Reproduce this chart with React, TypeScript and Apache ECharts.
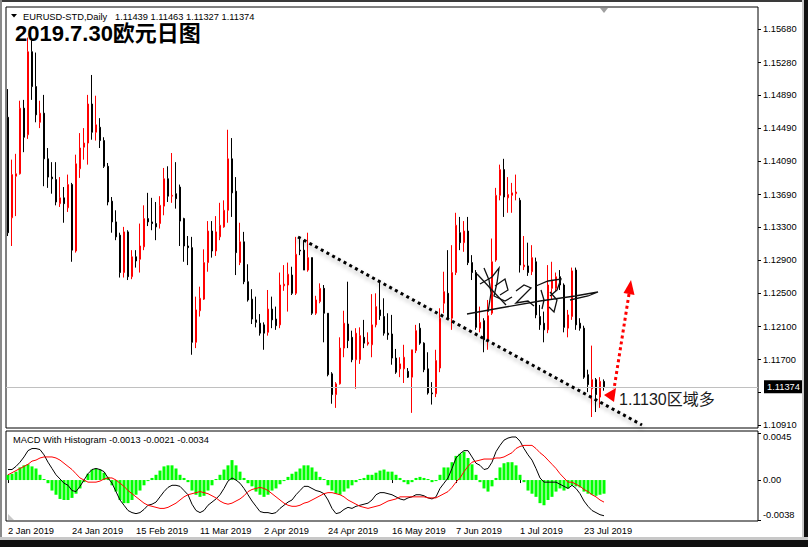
import React, { useEffect, useRef } from 'react';
import * as echarts from 'echarts';

// ---------- data ----------
const opens = [
  1.1462, 1.1341, 1.1391, 1.1394, 1.1473, 1.1441, 1.1541, 1.1499, 1.1456, 1.1467,
  1.1412, 1.1390, 1.1387, 1.1358, 1.1365, 1.1353, 1.1381, 1.1301, 1.1400, 1.1426,
  1.1431, 1.1478, 1.1444, 1.1450, 1.1434, 1.1403, 1.1361, 1.1336, 1.1320, 1.1275,
  1.1324, 1.1270, 1.1294, 1.1291, 1.1306, 1.1340, 1.1336, 1.1334, 1.1334, 1.1355,
  1.1388, 1.1367, 1.1370, 1.1378, 1.1340, 1.1307, 1.1305, 1.1191, 1.1229, 1.1243,
  1.1287, 1.1325, 1.1301, 1.1318, 1.1330, 1.1350, 1.1412, 1.1373, 1.1287, 1.1312,
  1.1264, 1.1243, 1.1218, 1.1214, 1.1212, 1.1203, 1.1231, 1.1219, 1.1212, 1.1259,
  1.1260, 1.1272, 1.1250, 1.1302, 1.1302, 1.1278, 1.1293, 1.1226, 1.1240, 1.1256,
  1.1226, 1.1153, 1.1128, 1.1141, 1.1184, 1.1213, 1.1197, 1.1170, 1.1170, 1.1197,
  1.1189, 1.1188, 1.1212, 1.1230, 1.1222, 1.1202, 1.1201, 1.1172, 1.1159, 1.1159,
  1.1156, 1.1149, 1.1181, 1.1208, 1.1190, 1.1159, 1.1130, 1.1129, 1.1160, 1.1238,
  1.1250, 1.1220, 1.1275, 1.1323, 1.1311, 1.1325, 1.1287, 1.1275, 1.1208, 1.1217,
  1.1193, 1.1226, 1.1290, 1.1368, 1.1399, 1.1365, 1.1368, 1.1370, 1.1362, 1.1282,
  1.1283, 1.1276, 1.1288, 1.1222, 1.1214, 1.1206, 1.1256, 1.1256, 1.1270, 1.1260,
  1.1208, 1.1222, 1.1278, 1.1214, 1.1208, 1.1152, 1.1135, 1.1146, 1.1125, 1.11439,
];
const highs = [
  1.1496, 1.1411, 1.1418, 1.1482, 1.1483, 1.1558, 1.1555, 1.1540, 1.1482, 1.1489,
  1.1425, 1.1408, 1.1408, 1.1390, 1.1378, 1.1393, 1.1383, 1.1417, 1.1443, 1.1449,
  1.1489, 1.1513, 1.1488, 1.1461, 1.1438, 1.1407, 1.1366, 1.1350, 1.1323, 1.1330,
  1.1326, 1.1302, 1.1302, 1.1334, 1.1356, 1.1371, 1.1365, 1.1360, 1.1367, 1.1401,
  1.1403, 1.1419, 1.1408, 1.1381, 1.1341, 1.1319, 1.1318, 1.1246, 1.1258, 1.1303,
  1.1337, 1.1337, 1.1343, 1.1359, 1.1362, 1.1447, 1.1437, 1.1390, 1.1335, 1.1324,
  1.1285, 1.1255, 1.1246, 1.1225, 1.1215, 1.1254, 1.1246, 1.1234, 1.1275, 1.1284,
  1.1287, 1.1282, 1.1318, 1.1318, 1.1314, 1.1323, 1.1293, 1.1247, 1.1262, 1.1260,
  1.1226, 1.1155, 1.1143, 1.1197, 1.1229, 1.1264, 1.1205, 1.1208, 1.1209, 1.1218,
  1.1203, 1.1249, 1.1250, 1.1264, 1.1244, 1.1226, 1.1224, 1.1183, 1.1173, 1.1188,
  1.1160, 1.1182, 1.1212, 1.1214, 1.1191, 1.1179, 1.1143, 1.1182, 1.1232, 1.1276,
  1.1302, 1.1308, 1.1347, 1.1342, 1.1337, 1.1342, 1.1296, 1.1278, 1.1234, 1.1220,
  1.1242, 1.1316, 1.1377, 1.1405, 1.1412, 1.1390, 1.1383, 1.1393, 1.1365, 1.1319,
  1.1311, 1.1308, 1.1293, 1.1236, 1.1228, 1.1284, 1.1288, 1.1275, 1.1278, 1.1262,
  1.1230, 1.1281, 1.1281, 1.1220, 1.1211, 1.1158, 1.1187, 1.1148, 1.1149, 1.11463,
];
const lows = [
  1.1319, 1.1307, 1.1343, 1.1393, 1.1420, 1.1436, 1.1483, 1.1456, 1.1449, 1.1379,
  1.1377, 1.1370, 1.1356, 1.1354, 1.1335, 1.1348, 1.1288, 1.1299, 1.1389, 1.1411,
  1.1405, 1.1435, 1.1434, 1.1425, 1.1401, 1.1356, 1.1323, 1.1314, 1.1269, 1.1269,
  1.1266, 1.1267, 1.1281, 1.1275, 1.1302, 1.1331, 1.1326, 1.1314, 1.1328, 1.1344,
  1.1360, 1.1359, 1.1352, 1.1307, 1.1288, 1.1284, 1.1176, 1.1184, 1.1222, 1.1242,
  1.1276, 1.1293, 1.1295, 1.1314, 1.1329, 1.1335, 1.1342, 1.1272, 1.1284, 1.1261,
  1.1240, 1.1213, 1.1209, 1.1199, 1.1182, 1.1199, 1.1208, 1.1206, 1.1208, 1.1253,
  1.1228, 1.1248, 1.1248, 1.1296, 1.1278, 1.1276, 1.1224, 1.1224, 1.1238, 1.1191,
  1.1150, 1.1117, 1.1112, 1.1140, 1.1173, 1.1184, 1.1167, 1.1135, 1.1165, 1.1184,
  1.1187, 1.1173, 1.1209, 1.1218, 1.1199, 1.1194, 1.1164, 1.1153, 1.1149, 1.1142,
  1.1148, 1.1106, 1.1178, 1.1188, 1.1155, 1.1128, 1.1116, 1.1125, 1.1155, 1.1226,
  1.1218, 1.1206, 1.1272, 1.1302, 1.1300, 1.1284, 1.1266, 1.1206, 1.1203, 1.1179,
  1.1182, 1.1224, 1.1288, 1.1362, 1.1342, 1.1347, 1.1347, 1.1362, 1.1275, 1.1278,
  1.1271, 1.1272, 1.1220, 1.1206, 1.1191, 1.1202, 1.1242, 1.1252, 1.1254, 1.1203,
  1.1197, 1.1218, 1.1206, 1.1205, 1.1147, 1.1131, 1.1101, 1.1107, 1.1112, 1.11327,
];
const closes = [
  1.1323, 1.1393, 1.1394, 1.1473, 1.1438, 1.1541, 1.1499, 1.1465, 1.1467, 1.1412,
  1.1390, 1.1388, 1.1360, 1.1365, 1.1358, 1.1381, 1.1302, 1.1406, 1.1425, 1.1431,
  1.1478, 1.1444, 1.1453, 1.1434, 1.1403, 1.1360, 1.1336, 1.1318, 1.1275, 1.1324,
  1.1270, 1.1294, 1.1289, 1.1307, 1.1340, 1.1336, 1.1334, 1.1330, 1.1356, 1.1388,
  1.1367, 1.1368, 1.1364, 1.1337, 1.1307, 1.1305, 1.1191, 1.1230, 1.1244, 1.1287,
  1.1325, 1.1301, 1.1324, 1.1332, 1.1350, 1.1412, 1.1371, 1.1299, 1.1312, 1.1264,
  1.1242, 1.1219, 1.1215, 1.1202, 1.1202, 1.1231, 1.1218, 1.1211, 1.1260, 1.1261,
  1.1273, 1.1250, 1.1297, 1.1301, 1.1278, 1.1293, 1.1226, 1.1242, 1.1256, 1.1226,
  1.1152, 1.1128, 1.1141, 1.1184, 1.1214, 1.1193, 1.1170, 1.1202, 1.1199, 1.1190,
  1.1191, 1.1212, 1.1234, 1.1223, 1.1202, 1.1200, 1.1172, 1.1155, 1.1165, 1.1173,
  1.1149, 1.1182, 1.1205, 1.1190, 1.1158, 1.1130, 1.1129, 1.1169, 1.1220, 1.1252,
  1.1220, 1.1275, 1.1332, 1.1311, 1.1325, 1.1287, 1.1275, 1.1209, 1.1215, 1.1194,
  1.1223, 1.1288, 1.1368, 1.1399, 1.1366, 1.1369, 1.1371, 1.1372, 1.1284, 1.1284,
  1.1275, 1.1293, 1.1224, 1.1212, 1.1206, 1.1260, 1.1266, 1.1270, 1.1260, 1.1209,
  1.1224, 1.1277, 1.1212, 1.1208, 1.1149, 1.1140, 1.1146, 1.1128, 1.1144, 1.11374,
];
const macdHist = [
  0.0005, 0.0006, 0.0008, 0.0012, 0.0014, 0.0015, 0.0013, 0.0011, 0.0005, 0.0001,
  -0.0003, -0.0010, -0.0014, -0.0018, -0.0019, -0.0019, -0.0017, -0.0013, -0.0008, -0.0002,
  0.0006, 0.0010, 0.0011, 0.0010, 0.0007, 0.0003, -0.0005, -0.0011, -0.0019, -0.0022,
  -0.0022, -0.0019, -0.0014, -0.0010, -0.0005, -0.0001, 0.0002, 0.0005, 0.0009, 0.0013,
  0.0014, 0.0014, 0.0011, 0.0005, 0.0002, -0.0002, -0.0010, -0.0014, -0.0016, -0.0015,
  -0.0010, -0.0005, 0.0001, 0.0005, 0.0010, 0.0014, 0.0019, 0.0014, 0.0008, 0.0002,
  -0.0003, -0.0006, -0.0011, -0.0014, -0.0016, -0.0014, -0.0010, -0.0008, -0.0004, -0.0001,
  0.0003, 0.0006, 0.0008, 0.0011, 0.0014, 0.0014, 0.0012, 0.0008, 0.0003, 0.0001,
  -0.0005, -0.0010, -0.0013, -0.0014, -0.0011, -0.0008, -0.0005, -0.0002, 0.0001, 0.0002,
  0.0005, 0.0005, 0.0007, 0.0009, 0.0010, 0.0008, 0.0008, 0.0005, 0.0002, -0.0002,
  -0.0004, -0.0002, 0.0002, 0.0003, 0.0002, 0.0001, -0.0002, -0.0001, 0.0005, 0.0012,
  0.0012, 0.0017, 0.0023, 0.0025, 0.0027, 0.0021, 0.0015, 0.0005, -0.0002, -0.0008,
  -0.0011, -0.0006, 0.0002, 0.0012, 0.0016, 0.0017, 0.0017, 0.0014, 0.0005, -0.0002,
  -0.0010, -0.0013, -0.0016, -0.0022, -0.0024, -0.0019, -0.0016, -0.0011, -0.0008, -0.0010,
  -0.0008, -0.0005, -0.0006, -0.0007, -0.0011, -0.0013, -0.0014, -0.0015, -0.0014, -0.0013,
];
const macdLine = [
  0.0010, 0.0010, 0.0013, 0.0017, 0.0022, 0.0028, 0.0030, 0.0030, 0.0029, 0.0024,
  0.0017, 0.0011, 0.0005, 0.0001, -0.0003, -0.0005, -0.0010, -0.0011, -0.0006, 0.0000,
  0.0006, 0.0010, 0.0011, 0.0010, 0.0008, 0.0002, -0.0003, -0.0011, -0.0019, -0.0024,
  -0.0029, -0.0031, -0.0032, -0.0031, -0.0028, -0.0024, -0.0023, -0.0021, -0.0016, -0.0011,
  -0.0007, -0.0005, -0.0005, -0.0006, -0.0010, -0.0014, -0.0023, -0.0029, -0.0031, -0.0029,
  -0.0024, -0.0021, -0.0018, -0.0014, -0.0008, -0.0001, 0.0002, 0.0000, -0.0003, -0.0008,
  -0.0014, -0.0020, -0.0025, -0.0030, -0.0031, -0.0031, -0.0032, -0.0031, -0.0027, -0.0024,
  -0.0021, -0.0019, -0.0014, -0.0010, -0.0006, -0.0006, -0.0008, -0.0010, -0.0011, -0.0013,
  -0.0019, -0.0027, -0.0032, -0.0031, -0.0028, -0.0026, -0.0027, -0.0025, -0.0024, -0.0023,
  -0.0022, -0.0019, -0.0014, -0.0012, -0.0012, -0.0013, -0.0014, -0.0016, -0.0018, -0.0019,
  -0.0017, -0.0016, -0.0014, -0.0014, -0.0015, -0.0017, -0.0018, -0.0016, -0.0008, -0.0003,
  0.0002, 0.0011, 0.0021, 0.0025, 0.0028, 0.0028, 0.0022, 0.0016, 0.0014, 0.0010,
  0.0011, 0.0017, 0.0027, 0.0033, 0.0038, 0.0040, 0.0041, 0.0041, 0.0037, 0.0030,
  0.0024, 0.0019, 0.0011, 0.0002, -0.0002, -0.0002, -0.0002, -0.0002, -0.0004, -0.0006,
  -0.0008, -0.0005, -0.0008, -0.0013, -0.0020, -0.0025, -0.0029, -0.0031, -0.0033, -0.0034,
];
const signalLine = [
  0.0005, 0.0007, 0.0009, 0.0011, 0.0013, 0.0015, 0.0018, 0.0019, 0.0021, 0.0022,
  0.0022, 0.0022, 0.0021, 0.0019, 0.0016, 0.0013, 0.0010, 0.0006, 0.0002, 0.0000,
  -0.0002, -0.0002, -0.0002, -0.0001, 0.0001, 0.0002, 0.0002, 0.0000, -0.0003, -0.0006,
  -0.0010, -0.0013, -0.0016, -0.0019, -0.0022, -0.0024, -0.0025, -0.0026, -0.0027, -0.0027,
  -0.0026, -0.0024, -0.0022, -0.0019, -0.0016, -0.0014, -0.0013, -0.0012, -0.0011, -0.0012,
  -0.0013, -0.0015, -0.0017, -0.0020, -0.0022, -0.0023, -0.0022, -0.0020, -0.0018, -0.0015,
  -0.0011, -0.0009, -0.0008, -0.0007, -0.0008, -0.0010, -0.0013, -0.0016, -0.0019, -0.0022,
  -0.0024, -0.0025, -0.0025, -0.0024, -0.0022, -0.0021, -0.0019, -0.0017, -0.0015, -0.0013,
  -0.0012, -0.0012, -0.0013, -0.0014, -0.0016, -0.0019, -0.0021, -0.0023, -0.0025, -0.0026,
  -0.0027, -0.0026, -0.0025, -0.0024, -0.0022, -0.0020, -0.0019, -0.0018, -0.0016, -0.0016,
  -0.0016, -0.0016, -0.0016, -0.0016, -0.0016, -0.0017, -0.0017, -0.0017, -0.0015, -0.0013,
  -0.0011, -0.0007, -0.0002, 0.0002, 0.0008, 0.0013, 0.0017, 0.0018, 0.0019, 0.0020,
  0.0020, 0.0020, 0.0021, 0.0021, 0.0022, 0.0024, 0.0026, 0.0030, 0.0032, 0.0033,
  0.0033, 0.0033, 0.0030, 0.0026, 0.0023, 0.0019, 0.0015, 0.0011, 0.0006, 0.0002,
  -0.0002, -0.0002, -0.0004, -0.0006, -0.0009, -0.0011, -0.0014, -0.0016, -0.0019, -0.0021,
];
const priceTicks = [1.1568, 1.1528, 1.1489, 1.1449, 1.1409, 1.1369, 1.133, 1.129, 1.125, 1.121, 1.117, 1.1131, 1.1091];
const priceLabels = [1.1568, 1.1528, 1.1489, 1.1449, 1.1409, 1.1369, 1.133, 1.129, 1.125, 1.121, 1.117, 1.1091];
const macdTicks = [-0.0038, 0, 0.0045];
const lastPrice = 1.11374;
const headerSymbol = 'EURUSD-STD,Daily';
const headerOHLC = '1.11439 1.11463 1.11327 1.11374';
const titleText = '2019.7.30欧元日图';
const macdTitle = 'MACD With Histogram -0.0013 -0.0021 -0.0034';
const noteText = '1.1130区域多';
const MONTHS = ['Jan', 'Feb', 'Mar', 'Apr', 'May', 'Jun', 'Jul', 'Aug', 'Sep', 'Oct', 'Nov', 'Dec'];

function tradingDays(n: number): string[] {
  const out: string[] = [];
  const d = new Date(Date.UTC(2019, 0, 2));
  while (out.length < n) {
    const wd = d.getUTCDay();
    if (wd !== 0 && wd !== 6) out.push(`${d.getUTCDate()} ${MONTHS[d.getUTCMonth()]} ${d.getUTCFullYear()}`);
    d.setUTCDate(d.getUTCDate() + 1);
  }
  return out;
}

const FONT = "'Liberation Sans', Arial, sans-serif";
const FONT_CJK = "'Liberation Sans', 'Noto Sans CJK SC', sans-serif";

export default function App() {
  const ref = useRef<HTMLDivElement>(null);
  useEffect(() => {
    if (!ref.current) return;
    const chart = echarts.init(ref.current, null, { renderer: 'svg' });
    const dates = tradingDays(opens.length);
    const shiftBars = 38; // empty space right of the last bar (chart shift)
    const cats = [...dates];
    for (let k = 0; k < shiftBars; k++) cats.push(`_${k}`);
    const showTick = (index: number) => index < dates.length && index % 16 === 0;
    const candleData = opens.map((o, i) => [o, closes[i], lows[i], highs[i]]);

    const sig = [
      [[484, 268], [489, 280], [491, 293], [488, 312]],
      [[480, 284], [492, 277], [499, 268], [497, 283], [494, 296], [505, 301], [512, 297]],
      [[495, 286], [505, 279], [508, 290], [500, 295]],
      [[477, 274], [506, 305]],
      [[516, 291], [524, 285], [531, 288], [522, 297], [516, 303], [528, 301], [534, 306]],
      [[536, 286], [548, 281], [561, 279], [557, 290], [550, 296]],
      [[541, 290], [544, 300], [542, 309]],
      [[550, 292], [557, 300], [554, 312], [549, 307]],
      [[467, 314], [500, 308], [540, 301], [575, 296], [598, 292], [588, 296], [570, 300]],
    ];

    chart.setOption({
      animation: false,
      backgroundColor: '#ffffff',
      grid: [
        { left: 6, top: 7, width: 752, height: 421, show: true, borderColor: '#000', borderWidth: 1, backgroundColor: 'transparent' },
        { left: 6, top: 431, width: 752, height: 90, show: true, borderColor: '#000', borderWidth: 1, backgroundColor: 'transparent' },
      ],
      xAxis: [
        { type: 'category', gridIndex: 0, data: cats, show: false, boundaryGap: true },
        {
          type: 'category', gridIndex: 1, data: cats, boundaryGap: true,
          axisLine: { show: false },
          axisTick: { show: true, interval: showTick, alignWithLabel: true, length: 3, lineStyle: { color: '#000' } },
          axisLabel: { interval: showTick, align: 'left', margin: 5, color: '#000', fontSize: 9.3, fontFamily: FONT },
          splitLine: { show: false },
        },
      ],
      yAxis: [
        {
          type: 'value', gridIndex: 0, position: 'right', min: 1.108777, max: 1.159487,
          axisLine: { show: false }, splitLine: { show: false },
          axisTick: { show: true, customValues: priceTicks, length: 3, lineStyle: { color: '#000' } },
          axisLabel: { customValues: priceLabels, formatter: (v: number) => v.toFixed(5), margin: 5, color: '#000', fontSize: 9.3, fontFamily: FONT },
        },
        {
          type: 'value', gridIndex: 1, position: 'right', min: -0.0039, max: 0.00467,
          axisLine: { show: false }, splitLine: { show: false },
          axisTick: { show: true, customValues: macdTicks, length: 3, lineStyle: { color: '#000' } },
          axisLabel: {
            customValues: macdTicks,
            formatter: (v: number) => (v === 0 ? '0.00' : v.toFixed(4)),
            margin: 5, color: '#000', fontSize: 9.3, fontFamily: FONT,
            verticalAlignMinLabel: 'bottom', verticalAlignMaxLabel: 'top',
          },
        },
      ],
      series: [
        {
          type: 'candlestick', xAxisIndex: 0, yAxisIndex: 0, data: candleData, barWidth: 2,
          itemStyle: { color: '#ffffff', color0: '#000000', borderColor: '#ff0000', borderColor0: '#000000', borderWidth: 1 },
          markLine: {
            silent: true, symbol: ['none', 'none'], precision: 5,
            data: [{ yAxis: lastPrice }],
            lineStyle: { color: '#c0c0c0', type: 'solid', width: 1 },
            label: {
              show: true, position: 'end', distance: 6,
              formatter: (p: any) => Number(p.value).toFixed(5),
              backgroundColor: '#000', color: '#fff', padding: [2, 3, 2, 3],
              fontSize: 9.3, fontFamily: FONT,
            },
          },
        },
        { type: 'bar', xAxisIndex: 1, yAxisIndex: 1, data: macdHist, barWidth: 3, itemStyle: { color: '#00ff00' } },
        { type: 'line', xAxisIndex: 1, yAxisIndex: 1, data: macdLine, symbol: 'none', lineStyle: { color: '#000000', width: 1 } },
        { type: 'line', xAxisIndex: 1, yAxisIndex: 1, data: signalLine, symbol: 'none', lineStyle: { color: '#ff0000', width: 1 } },
      ],
      graphic: [
        // window frame
        { type: 'rect', z: 100, shape: { x: 0, y: 0, width: 808, height: 2 }, style: { fill: '#3a3a3a' } },
        { type: 'rect', z: 100, shape: { x: 0, y: 0, width: 2, height: 547 }, style: { fill: '#8a8a8a' } },
        { type: 'rect', z: 100, shape: { x: 802, y: 0, width: 2, height: 547 }, style: { fill: '#c8c8c8' } },
        { type: 'rect', z: 100, shape: { x: 804, y: 0, width: 4, height: 547 }, style: { fill: '#101010' } },
        { type: 'rect', z: 100, shape: { x: 0, y: 537, width: 808, height: 3 }, style: { fill: '#c8c8c8' } },
        { type: 'rect', z: 100, shape: { x: 0, y: 540, width: 808, height: 7 }, style: { fill: '#101010' } },
        // header
        { type: 'polygon', z: 100, shape: { points: [[11, 14], [17, 14], [14, 17.5]] }, style: { fill: '#000' } },
        { type: 'text', z: 100, x: 23, y: 16.5, style: { text: headerSymbol, fontSize: 9.3, fontFamily: FONT, fill: '#000', verticalAlign: 'middle' } },
        { type: 'text', z: 100, x: 115, y: 16.5, style: { text: headerOHLC, fontSize: 9.3, fontFamily: FONT, fill: '#000', verticalAlign: 'middle' } },
        { type: 'text', z: 100, x: 15, y: 33, style: { text: titleText, fontSize: 22, fontWeight: 'bold', fontFamily: FONT_CJK, fill: '#000', verticalAlign: 'middle' } },
        { type: 'polygon', z: 100, shape: { points: [[600, 8], [608, 8], [604, 13]] }, style: { fill: '#a0a0a0' } },
        // MACD panel
        { type: 'text', z: 100, x: 13, y: 440, style: { text: macdTitle, fontSize: 9.3, fontFamily: FONT, fill: '#000', verticalAlign: 'middle' } },
        { type: 'polygon', z: 100, shape: { points: [[8, 514], [8, 520], [14, 520]] }, style: { fill: '#c8c8c8' } },
        // trend line
        { type: 'line', z: 60, shape: { x1: 298, y1: 237, x2: 642, y2: 425 }, style: { stroke: '#000', lineWidth: 3, lineDash: [3, 3.5], shadowColor: 'rgba(0,0,0,0.35)', shadowBlur: 4, shadowOffsetY: 3 } },
        // red arrow
        { type: 'line', z: 60, shape: { x1: 629, y1: 294, x2: 614, y2: 389 }, style: { stroke: '#ff0000', lineWidth: 3, lineDash: [3, 3] } },
        { type: 'polygon', z: 60, shape: { points: [[631, 280], [634.5, 295], [623.5, 293]] }, style: { fill: '#ff0000' } },
        { type: 'polygon', z: 60, shape: { points: [[604, 395], [616, 388], [614, 402]] }, style: { fill: '#ff0000' } },
        { type: 'text', z: 60, x: 619, y: 399, style: { text: noteText, fontSize: 16, fontFamily: FONT_CJK, fill: '#1a1a1a', verticalAlign: 'middle' } },
        // signature
        ...sig.map((pts) => ({ type: 'polyline', z: 60, shape: { points: pts }, style: { stroke: '#111', lineWidth: 1.3, fill: 'none' } })),
      ],
    });
    return () => chart.dispose();
  }, []);
  return <div ref={ref} style={{ position: 'fixed', left: 0, top: 0, width: 808, height: 547 }} />;
}
